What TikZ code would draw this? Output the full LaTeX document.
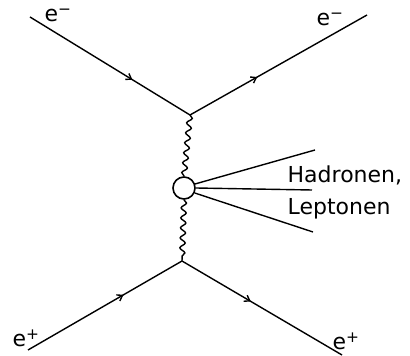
\documentclass[tikz,border=0pt]{standalone}
\usepackage{fontspec}
\setmainfont{DejaVu Sans}
\usepackage{tikz}
\usetikzlibrary{arrows.meta,positioning,calc,decorations.pathmorphing,decorations.markings}

\begin{document}
\begin{tikzpicture}[x=1pt,y=1pt,line width=1.4pt,
  font=\fontsize{22}{32}\selectfont,
  fermion/.style={postaction={decorate},decoration={markings,
    mark=at position #1 with {\arrow{Straight Barb[length=5pt,width=7pt]}}}},
  photon/.style={decorate,decoration={snake,segment length=10pt,amplitude=2.6pt}},
  lbl/.style={inner sep=0pt,anchor=base west}]
  \useasboundingbox (0,0) rectangle (410,356);
  % vertices and blob
  \coordinate (vtop) at (190,241);
  \coordinate (vbot) at (182,95);
  \node[draw,circle,minimum size=22pt,inner sep=0pt,line width=1.6pt] (blob) at (184,168) {};
  % external legs
  \coordinate (ein) at (30,339);
  \coordinate (eout) at (367,341);
  \coordinate (pin) at (28,6);
  \coordinate (pout) at (342,1);
  \draw[fermion=0.64] (ein)--(vtop);
  \draw[fermion=0.38] (vtop)--(eout);
  \draw[fermion=0.62] (pin)--(vbot);
  \draw[fermion=0.43] (vbot)--(pout);
  % photon lines
  \draw[photon] (vtop)--(blob.north);
  \draw[photon] (blob.south)--(vbot);
  % final state
  \coordinate (h1) at (315,206);
  \coordinate (h2) at (312,166);
  \coordinate (h3) at (313,124);
  \draw (blob.20)--(h1);
  \draw (blob.east)--(h2);
  \draw (blob.-25)--(h3);
  \node[lbl] (had) at (287,173) {Hadronen,};
  \node[lbl] (lept) at (287,141) {Leptonen};
  % particle labels
  \node[lbl] (lem) at (44,334) {e\textsuperscript{−}};
  \node[lbl] (rem) at (316,330) {e\textsuperscript{−}};
  \node[lbl] (lep) at (12,9) {e\textsuperscript{+}};
  \node[lbl] (rep) at (332,6) {e\textsuperscript{+}};
\end{tikzpicture}
\end{document}
